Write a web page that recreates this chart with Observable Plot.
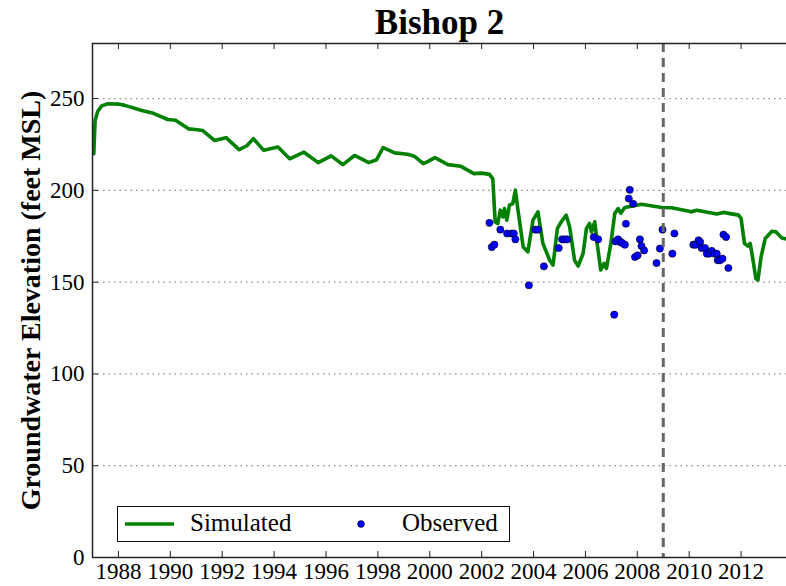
<!DOCTYPE html>
<html>
<head>
<meta charset="utf-8">
<script src="https://cdn.jsdelivr.net/npm/d3@7"></script>
<script src="https://cdn.jsdelivr.net/npm/@observablehq/plot@0.6"></script>
<style>
  html, body { margin: 0; padding: 0; background: #fff; }
  #wrap { position: relative; width: 786px; height: 586px; overflow: hidden; }
  #legend { position: absolute; left: 117px; top: 506px; width: 393px; height: 36px; box-sizing: border-box;
    border: 1.4px solid #111; background: #fff; font-family: "Liberation Serif", serif; font-size: 25px; }
  #legend .lab { position: absolute; top: 50%; transform: translateY(-53%); white-space: nowrap; }
</style>
</head>
<body>
<div id="wrap"></div>
<script>
// ---- data ----
const simYears = [1987.05,1987.1,1987.2,1987.35,1987.6,1988.0,1988.25,1988.9,1989.3,1989.9,1990.2,1990.7,1991.05,1991.25,1991.7,1992.15,1992.65,1992.95,1993.2,1993.6,1994.15,1994.6,1995.15,1995.7,1996.2,1996.65,1997.1,1997.65,1997.95,1998.2,1998.65,1999.15,1999.4,1999.75,1999.95,2000.2,2000.7,2001.2,2001.7,2002.0,2002.3,2002.43,2002.52,2002.62,2002.72,2002.82,2002.88,2002.97,2003.07,2003.2,2003.3,2003.4,2003.6,2003.78,2003.98,2004.17,2004.36,2004.62,2004.75,2004.92,2005.07,2005.26,2005.39,2005.58,2005.72,2005.91,2006.04,2006.16,2006.23,2006.36,2006.46,2006.59,2006.72,2006.81,2006.98,2007.13,2007.26,2007.36,2007.52,2007.78,2008.16,2008.94,2009.32,2010.09,2010.29,2011.06,2011.32,2011.9,2012.0,2012.13,2012.26,2012.35,2012.44,2012.57,2012.65,2012.77,2012.93,2013.19,2013.34,2013.57,2013.8];
const simValues = [220,238,243,246,247.2,247,246.3,243.5,242.2,238.6,238.2,233.5,233,232.6,227.2,228.7,222.2,224.3,228.2,221.8,223.6,217.2,220.8,215.1,218.8,214,219,215.1,216.7,223.3,220.4,219.7,218.6,214.5,215.9,217.8,214,213.1,209.1,209.4,208.7,206.3,182.8,181.9,189.2,185.5,190.1,183.7,191.9,192.8,200.1,189.2,169.2,166.5,183.8,188.3,171.1,162,159.3,179.3,182.9,186.5,180.2,162,158.8,165.6,179.3,182,177.4,182.9,170.2,156.6,160.2,157.5,171.1,187.4,190.1,187.6,190.7,191.4,192.4,190.7,190.5,188.3,189.2,187.1,188,186.5,184.7,171.1,169.6,171.1,163.7,152,151.1,163.7,173.8,177.7,177.4,174.1,173.4];

const obsYears = [2002.3,2002.39,2002.49,2002.72,2002.98,2003.14,2003.24,2003.3,2003.82,2004.07,2004.17,2004.4,2004.97,2005.1,2005.2,2005.3,2006.32,2006.49,2007.11,2007.16,2007.26,2007.35,2007.42,2007.52,2007.56,2007.71,2007.67,2007.84,2007.91,2008.01,2008.1,2008.16,2008.26,2008.74,2008.87,2008.97,2009.35,2009.43,2010.16,2010.25,2010.36,2010.42,2010.48,2010.61,2010.68,2010.77,2010.87,2010.97,2011.06,2011.1,2011.19,2011.28,2011.32,2011.42,2011.51];
const obsValues = [182.3,169.1,170.4,178.6,176.5,176.5,176.5,173.3,148.3,178.6,178.6,158.6,168.6,173.3,173.3,173.3,174.6,173.3,132.3,172.2,173.3,171.9,171.3,170.4,181.8,200.3,195.5,192.7,163.7,164.6,173.3,169.7,167.3,160.4,168.3,178.6,165.5,176.5,170.4,170.4,172.8,171.9,168.6,168.6,165.5,165.5,167,165.5,165.5,161.9,161.9,162.8,175.9,174.6,157.7];

const xTicks = [1988,1990,1992,1994,1996,1998,2000,2002,2004,2006,2008,2010,2012];
const yTicks = [0,50,100,150,200,250];
const calibrationEnd = [2009];
const titleText = "Bishop 2";
const yLabel = "Groundwater Elevation (feet MSL)";
const legendLabels = ["Simulated", "Observed"];

// ---- tables built from arrays ----
const sim = simYears.map((x, i) => ({x, y: simValues[i]}));
const obs = obsYears.map((x, i) => ({x, y: obsValues[i]}));

const W = 786, H = 586, mL = 92, mR = 0, mT = 43, mB = 29;
const plotH = H - mT - mB, plotW = W - mL - mR;
const green = "#008000";

const chart = Plot.plot({
  width: W, height: H,
  marginLeft: mL, marginRight: mR, marginTop: mT, marginBottom: mB,
  x: {domain: [1987, 2013.75], axis: null},
  y: {domain: [0, 280], axis: null},
  style: {fontFamily: "Liberation Serif, serif", fontSize: "23px", color: "#000", background: "#fff", overflow: "visible"},
  marks: [
    Plot.ruleY(yTicks.filter(d => d > 0), {y: d => d, stroke: "#8a8a8a", strokeWidth: 1.2, strokeDasharray: "1.5,4"}),
    Plot.tickX(xTicks, {x: d => d, insetTop: plotH - 6, stroke: "#222", strokeWidth: 1}),
    Plot.tickX(xTicks, {x: d => d, insetBottom: plotH - 6, stroke: "#222", strokeWidth: 1}),
    Plot.tickY(yTicks, {y: d => d, insetRight: plotW - 6, stroke: "#222", strokeWidth: 1}),
    Plot.line(sim, {x: "x", y: "y", stroke: green, strokeWidth: 3.6, strokeLinejoin: "round"}),
    Plot.dot(obs, {x: "x", y: "y", r: 3.6, fill: "#0000ff", stroke: "#000", strokeWidth: 0.6}),
    Plot.ruleX(calibrationEnd, {x: d => d, stroke: "#666", strokeWidth: 3, strokeDasharray: "9,6"}),
    Plot.ruleY([0], {stroke: "#222", strokeWidth: 1.5}),
    Plot.ruleY([280], {stroke: "#222", strokeWidth: 1.5}),
    Plot.ruleX([1987], {stroke: "#222", strokeWidth: 1.5}),
    // tick labels
    Plot.text(xTicks, {x: d => d, text: d => String(d), frameAnchor: "bottom", lineAnchor: "top", dy: 5, fontSize: 23}),
    Plot.text(yTicks, {y: d => d, text: d => String(d), frameAnchor: "left", textAnchor: "end", dx: -8, fontSize: 23}),
    Plot.text([titleText], {frameAnchor: "top", dy: -10, lineAnchor: "bottom", fontSize: 35, fontWeight: "bold"}),
    Plot.text([yLabel], {frameAnchor: "left", textAnchor: "middle", dx: -61, rotate: -90, fontSize: 28, fontWeight: "bold"})
  ]
});
const wrap = document.getElementById("wrap");
wrap.appendChild(chart);

// ---- legend (HTML overlay) ----
const lg = document.createElement("div");
lg.id = "legend";
lg.innerHTML = `
  <svg width="393" height="36" style="position:absolute;left:-1.4px;top:-1.4px">
    <line x1="8" x2="57" y1="18" y2="18" stroke="${green}" stroke-width="3.6"/>
    <circle cx="244" cy="18" r="3.4" fill="#0000ff" stroke="#000" stroke-width="0.6"/>
  </svg>
  <span class="lab" style="left:72px">${legendLabels[0]}</span>
  <span class="lab" style="left:284px">${legendLabels[1]}</span>`;
wrap.appendChild(lg);
</script>
</body>
</html>
